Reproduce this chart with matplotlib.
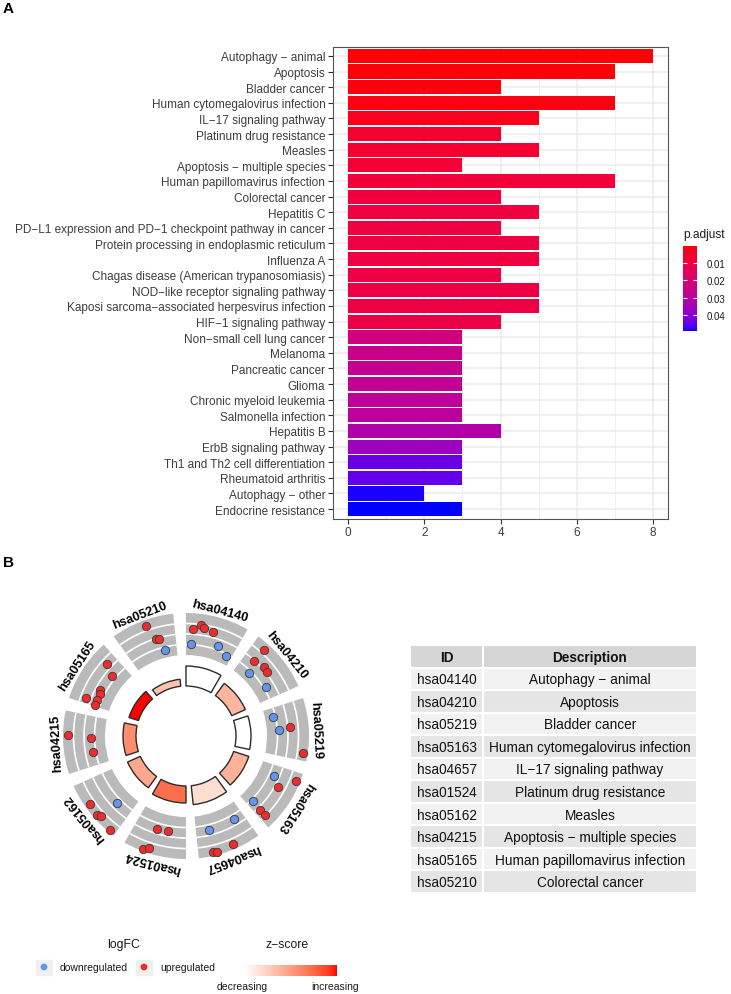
import numpy as np
import matplotlib
matplotlib.use("Agg")
import matplotlib.pyplot as plt
from matplotlib.patches import Wedge, Arc, Rectangle
from matplotlib.colors import ListedColormap, Normalize

plt.rcParams['font.family'] = ['Liberation Sans', 'DejaVu Sans']

# ---------------- data: panel A ----------------
terms = ["Autophagy \u2212 animal", "Apoptosis", "Bladder cancer", "Human cytomegalovirus infection",
         "IL\u221217 signaling pathway", "Platinum drug resistance", "Measles",
         "Apoptosis \u2212 multiple species", "Human papillomavirus infection", "Colorectal cancer",
         "Hepatitis C", "PD\u2212L1 expression and PD\u22121 checkpoint pathway in cancer",
         "Protein processing in endoplasmic reticulum", "Influenza A",
         "Chagas disease (American trypanosomiasis)", "NOD\u2212like receptor signaling pathway",
         "Kaposi sarcoma\u2212associated herpesvirus infection", "HIF\u22121 signaling pathway",
         "Non\u2212small cell lung cancer", "Melanoma", "Pancreatic cancer", "Glioma",
         "Chronic myeloid leukemia", "Salmonella infection", "Hepatitis B", "ErbB signaling pathway",
         "Th1 and Th2 cell differentiation", "Rheumatoid arthritis", "Autophagy \u2212 other",
         "Endocrine resistance"]
counts = [8, 7, 4, 7, 5, 4, 5, 3, 7, 4, 5, 4, 5, 5, 4, 5, 5, 4, 3, 3, 3, 3, 3, 3, 4, 3, 3, 3, 2, 3]
p_adjust = [0.0005, 0.0010, 0.0015, 0.0018, 0.0030, 0.0060, 0.0065, 0.0070, 0.0080, 0.0085,
            0.0090, 0.0092, 0.0095, 0.0095, 0.0098, 0.0100, 0.0100, 0.0105, 0.0220, 0.0250,
            0.0260, 0.0270, 0.0280, 0.0290, 0.0315, 0.0360, 0.0440, 0.0445, 0.0485, 0.0490]
x_ticks = [0, 2, 4, 6, 8]
cbar_ticks = [0.01, 0.02, 0.03, 0.04]

# ---------------- data: panel B ----------------
go_ids = ["hsa04140", "hsa04210", "hsa05219", "hsa05163", "hsa04657",
          "hsa01524", "hsa05162", "hsa04215", "hsa05165", "hsa05210"]
go_desc = ["Autophagy \u2212 animal", "Apoptosis", "Bladder cancer", "Human cytomegalovirus infection",
           "IL\u221217 signaling pathway", "Platinum drug resistance", "Measles",
           "Apoptosis \u2212 multiple species", "Human papillomavirus infection", "Colorectal cancer"]
zscore = [0.0, 0.38, 0.0, 0.40, 0.18, 0.72, 0.45, 0.58, 1.0, 0.32]          # relative z-score
neglog_p = [2.0, 1.5, 1.5, 1.6, 1.9, 1.7, 1.4, 1.3, 1.0, 0.7]              # inner bar height
# genes: term index, angular position in the term (0..1), track level (0..1), regulation
pt_term = [0, 0, 0, 0, 0, 0, 0,
           1, 1, 1, 1, 1, 1,
           2, 2, 2, 2,
           3, 3, 3, 3, 3, 3,
           4, 4, 4, 4, 4,
           5, 5, 5, 5,
           6, 6, 6, 6, 6,
           7, 7, 7,
           8, 8, 8, 8, 8, 8, 8,
           9, 9, 9, 9]
pt_pos = [0.13, 0.25, 0.32, 0.48, 0.10, 0.66, 0.88,
          0.20, 0.21, 0.42, 0.53, 0.30, 0.74,
          0.20, 0.47, 0.43, 0.88,
          0.21, 0.87, 0.15, 0.37, 0.89, 0.90,
          0.75, 0.20, 0.42, 0.76, 0.70,
          0.57, 0.35, 0.70, 0.61,
          0.34, 0.62, 0.42, 0.36, 0.10,
          0.62, 0.56, 0.27,
          0.81, 0.70, 0.10, 0.35, 0.27, 0.14, 0.03,
          0.53, 0.63, 0.68, 0.74]
pt_level = [0.62, 0.74, 0.69, 0.63, 0.27, 0.35, 0.21,
            0.84, 0.49, 0.54, 0.53, 0.19, 0.30,
            0.20, 0.28, 0.55, 0.88,
            0.36, 0.29, 0.90, 0.59, 0.56, 0.73,
            0.37, 0.36, 0.88, 0.90, 0.93,
            0.40, 0.37, 0.95, 0.88,
            0.36, 0.88, 0.90, 0.84, 0.94,
            0.87, 0.34, 0.32,
            0.61, 0.34, 0.62, 0.39, 0.36, 0.35, 0.37,
            0.85, 0.50, 0.46, 0.17]
pt_up = [1, 1, 1, 1, 0, 0, 0,
         1, 1, 1, 1, 0, 0,
         0, 0, 1, 1,
         0, 0, 1, 1, 1, 1,
         0, 0, 1, 1, 1,
         1, 1, 1, 1,
         0, 1, 1, 1, 1,
         1, 1, 1,
         1, 1, 1, 1, 1, 1, 1,
         1, 1, 1, 0]


# ---------------- helpers: Lab colour ramp (like ggplot's gradients) ----------------
_M = np.array([[0.4124, 0.3576, 0.1805], [0.2126, 0.7152, 0.0722], [0.0193, 0.1192, 0.9505]])
_WP = np.array([0.95047, 1.0, 1.08883])


def _to_lab(rgb):
    c = np.asarray(rgb, float)
    lin = np.where(c <= 0.04045, c / 12.92, ((c + 0.055) / 1.055) ** 2.4)
    xyz = _M @ lin / _WP
    d = 6 / 29
    f = np.where(xyz > d ** 3, np.cbrt(xyz), xyz / (3 * d * d) + 4 / 29)
    return np.array([116 * f[1] - 16, 500 * (f[0] - f[1]), 200 * (f[1] - f[2])])


def _from_lab(lab):
    L, a, b = lab
    fy_ = (L + 16) / 116
    fs = np.array([fy_ + a / 500, fy_, fy_ - b / 200])
    d = 6 / 29
    xyz = np.where(fs > d, fs ** 3, 3 * d * d * (fs - 4 / 29)) * _WP
    lin = np.clip(np.linalg.inv(_M) @ xyz, 0, 1)
    srgb = np.where(lin <= 0.0031308, lin * 12.92, 1.055 * lin ** (1 / 2.4) - 0.055)
    return np.clip(srgb, 0, 1)


def lab_cmap(c1, c2, n=256):
    l1, l2 = _to_lab(c1), _to_lab(c2)
    return ListedColormap([_from_lab(l1 + (l2 - l1) * t) for t in np.linspace(0, 1, n)])


cmap_bar = lab_cmap((1, 0, 0), (0, 0, 1))
cmap_z = lab_cmap((1, 1, 1), (1, 0, 0))

W, H = 731, 995
fig = plt.figure(figsize=(W / 100, H / 100), dpi=100)


def fr(x0, y0, x1, y1):
    return [x0 / W, 1 - y1 / H, (x1 - x0) / W, (y1 - y0) / H]


# ---------------- panel A ----------------
ax = fig.add_axes(fr(333, 47.5, 668, 519.5))
n = len(terms)
ypos = np.arange(n)
vmin, vmax = 0.0003, 0.049
norm = Normalize(vmin, vmax)
ax.barh(ypos, counts, height=0.9, color=cmap_bar(norm(p_adjust)), zorder=2)
ax.set_xlim(-0.4, 8.4)
ax.set_ylim(n - 1 + 0.6, -0.6)
ax.set_yticks(ypos)
ax.set_yticklabels(terms)
ax.set_xticks(x_ticks)
ax.set_xticks([1, 3, 5, 7], minor=True)
ax.grid(which='major', color='#EBEBEB', lw=1.1, zorder=0)
ax.grid(which='minor', axis='x', color='#EBEBEB', lw=0.55, zorder=0)
ax.set_axisbelow(True)
ax.tick_params(axis='both', which='major', length=3.5, width=0.8, color='#333333',
               labelcolor='#3D3D3D', labelsize=8.45, pad=2)
ax.tick_params(which='minor', length=0)
for s in ax.spines.values():
    s.set_color('#555555')
    s.set_linewidth(0.8)

cax = fig.add_axes(fr(683, 247, 697, 332))
grad = np.linspace(vmin, vmax, 300)[:, None]
cax.imshow(grad, aspect='auto', cmap=cmap_bar, norm=norm, extent=(0, 1, vmax, vmin), origin='upper')
cax.set_xticks([])
cax.set_yticks(cbar_ticks)
cax.set_yticklabels([f"{t:.2f}" for t in cbar_ticks])
cax.yaxis.tick_right()
cax.tick_params(axis='y', direction='in', color='white', length=3, width=0.8, left=True, right=True,
                labelsize=7.0, pad=7, labelcolor='#1A1A1A')
for s in cax.spines.values():
    s.set_visible(False)
fig.text(683 / W, 1 - 235 / H, "p.adjust", fontsize=8.6, ha='left', va='center', color='#1A1A1A')

fig.text(3 / W, 1 - 9 / H, "A", fontsize=11, fontweight='bold', ha='left', va='center')
fig.text(3 / W, 1 - 563 / H, "B", fontsize=11, fontweight='bold', ha='left', va='center')

# ---------------- panel B: circle ----------------
cx, cy, half = 186, 737, 160
axc = fig.add_axes(fr(cx - half, cy - half, cx + half, cy + half))
axc.set_xlim(-half, half)
axc.set_ylim(-half, half)
axc.axis('off')

R_IN, R_OUT = 81, 123
RING_IN, H_SCALE = 50, 10
SEG, SPAN = 36, 30
for k, gid in enumerate(go_ids):
    t0 = SEG * k
    p1, p2 = 90 - (t0 + SPAN), 90 - t0
    axc.add_patch(Wedge((0, 0), R_OUT, p1, p2, width=R_OUT - R_IN, fc='#BABABA', ec='none', zorder=1))
    for q in (0.25, 0.5, 0.75):
        r = R_IN + q * (R_OUT - R_IN)
        axc.add_patch(Arc((0, 0), 2 * r, 2 * r, theta1=p1, theta2=p2, color='white', lw=1.2, zorder=2))
    h = neglog_p[k] * H_SCALE
    axc.add_patch(Wedge((0, 0), RING_IN + h, p1, p2, width=h, fc=cmap_z(zscore[k]),
                        ec='#2B2B2B', lw=1.0, zorder=2))
    tc = t0 + SPAN / 2
    rl = 130
    axc.text(rl * np.sin(np.radians(tc)), rl * np.cos(np.radians(tc)), gid, rotation=-tc,
             rotation_mode='anchor', ha='center', va='center', fontsize=9.2, fontweight='bold', zorder=4)

th = np.radians(np.array(pt_term) * SEG + np.array(pt_pos) * SPAN)
rr = R_IN + np.array(pt_level) * (R_OUT - R_IN)
ups = np.array(pt_up, bool)
axc.scatter(rr[ups] * np.sin(th[ups]), rr[ups] * np.cos(th[ups]), s=36, c='#EE2C2C',
            edgecolors='#3A3A3A', linewidths=0.6, zorder=3)
axc.scatter(rr[~ups] * np.sin(th[~ups]), rr[~ups] * np.cos(th[~ups]), s=36, c='#6495ED',
            edgecolors='#3A3A3A', linewidths=0.6, zorder=3)

# ---------------- panel B: table ----------------
axt = fig.add_axes(fr(410, 646, 697, 894))
axt.set_xlim(0, 287)
axt.set_ylim(11, 0)
axt.axis('off')
col_w = [73, 214]
rows = [("ID", "Description")] + list(zip(go_ids, go_desc))
for i, row in enumerate(rows):
    fc = '#D6D6D6' if i == 0 else ('#F2F2F2' if i % 2 == 1 else '#E5E5E5')
    x0 = 0
    for j, txt in enumerate(row):
        axt.add_patch(Rectangle((x0, i), col_w[j], 1, fc=fc, ec='white', lw=1.5))
        axt.text(x0 + col_w[j] / 2, i + 0.52, txt, ha='center', va='center', fontsize=9.8,
                 fontweight='bold' if i == 0 else 'normal', color='#111111')
        x0 += col_w[j]

# ---------------- panel B: legends ----------------
axl = fig.add_axes([0, 0, 1, 1], facecolor='none')
axl.set_xlim(0, W)
axl.set_ylim(H, 0)
axl.axis('off')
axl.text(124, 945, "logFC", ha='center', va='center', fontsize=8.8, color='#1A1A1A')
for x0, col, lab in ((35, '#6495ED', "downregulated"), (135, '#EE2C2C', "upregulated")):
    axl.add_patch(Rectangle((x0, 959.5), 18, 17, fc='#EFEFEF', ec='white', lw=0.5))
    axl.scatter([x0 + 9], [968], s=24, c=col, edgecolors='none')
    axl.text(x0 + 25, 968, lab, ha='left', va='center', fontsize=7.5, color='#1A1A1A')
axl.text(287, 945, "z\u2212score", ha='center', va='center', fontsize=8.8, color='#1A1A1A')
axl.text(242, 987, "decreasing", ha='center', va='center', fontsize=7.5, color='#1A1A1A')
axl.text(335, 987, "increasing", ha='center', va='center', fontsize=7.5, color='#1A1A1A')
axz = fig.add_axes(fr(245, 966, 337, 977))
axz.imshow(np.linspace(0, 1, 256)[None, :], aspect='auto', cmap=cmap_z)
axz.axis('off')

fig.savefig("out.png", dpi=100)
